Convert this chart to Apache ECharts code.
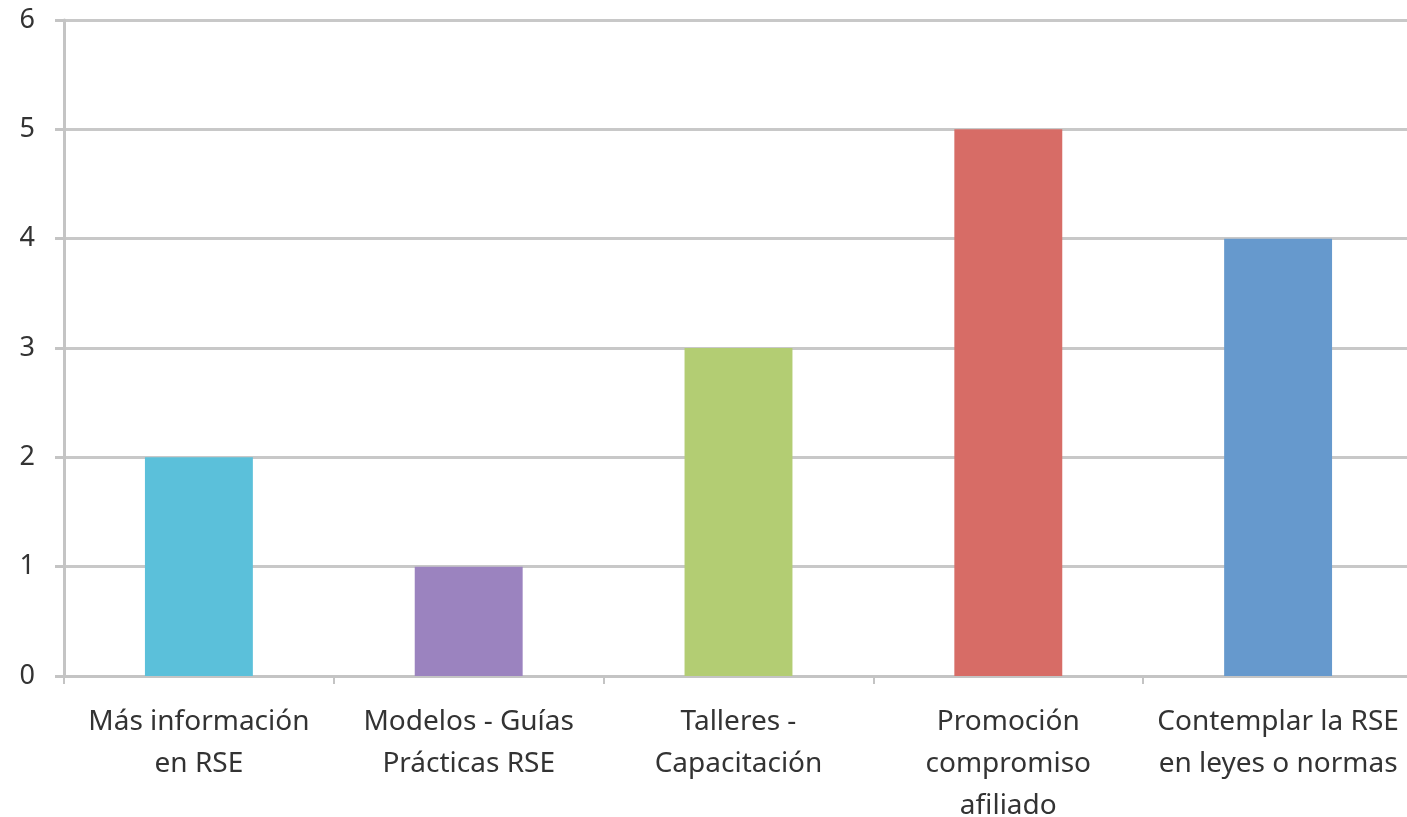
<!DOCTYPE html>
<html><head><meta charset="utf-8">
<script src="https://cdn.jsdelivr.net/npm/echarts@6/dist/echarts.min.js"></script>
<style>html,body{margin:0;padding:0;background:#fff}#c{width:1407px;height:817px}</style>
</head><body><div id="c"></div>
<script>
const categories = ["Más información\nen RSE", "Modelos - Guías\nPrácticas RSE", "Talleres -\nCapacitación", "Promoción\ncompromiso\nafiliado", "Contemplar la RSE\nen leyes o normas"];
const values = [2, 1, 3, 5, 4];
const barColors = ["#5bc0da", "#9b83bf", "#b3cd73", "#d76c66", "#6699cd"];
const yTicks = [0, 1, 2, 3, 4, 5, 6];

const chart = echarts.init(document.getElementById('c'));
chart.setOption({
  animation: false,
  grid: {left: 64, width: 1349, top: 20, bottom: 141, outerBoundsMode: 'none', containLabel: false},
  xAxis: {
    type: 'category', data: categories,
    axisLine: {lineStyle: {color: '#c4c4c4', width: 3}},
    axisTick: {show: true, length: 8, lineStyle: {color: '#c4c4c4', width: 2}},
    axisLabel: {color: '#333', fontSize: 28, fontFamily: 'Noto Sans', lineHeight: 42, margin: 25, interval: 0}
  },
  yAxis: {
    type: 'value', min: yTicks[0], max: yTicks[yTicks.length - 1], interval: 1,
    axisLine: {show: true, lineStyle: {color: '#c4c4c4', width: 3}},
    axisTick: {show: true, length: 9, lineStyle: {color: '#c4c4c4', width: 3}},
    splitLine: {lineStyle: {color: '#c8c8c8', width: 3}},
    axisLabel: {color: '#333', fontSize: 27, fontFamily: 'Noto Sans', margin: 29}
  },
  series: [{
    type: 'bar', barWidth: '40%',
    data: values.map((v, i) => ({value: v, itemStyle: {color: barColors[i]}}))
  }]
});
</script></body></html>
